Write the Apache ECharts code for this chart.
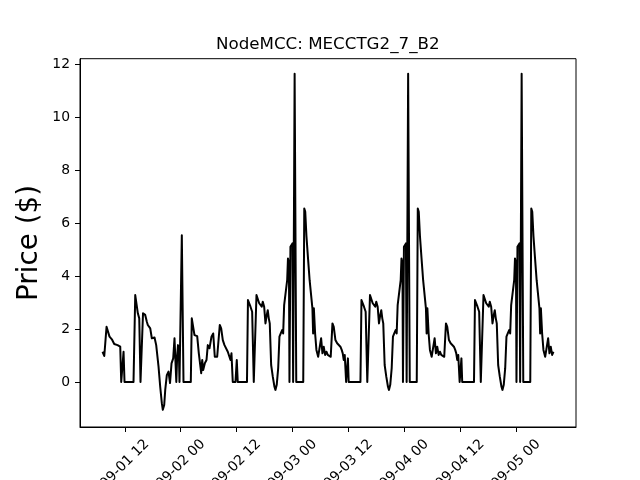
<!DOCTYPE html>
<html>
<head>
<meta charset="utf-8">
<script src="https://cdn.jsdelivr.net/npm/echarts@6/dist/echarts.min.js"></script>
<style>html,body{margin:0;padding:0;background:#fff}#main{width:640px;height:480px}</style>
</head>
<body>
<div id="main"></div>
<script>
// Hours since 2019-09-01 00:00 and matching prices ($)
const hours = [
  7.21, 7.58, 8.07, 8.28, 8.71, 9.21, 9.57, 9.72, 10.06, 10.43, 10.79, 11.01, 11.22, 11.50, 11.72, 11.93,
  13.86, 14.23, 14.44, 14.79, 15.09, 15.21, 15.36, 15.90, 16.37, 16.72, 16.93, 17.23, 17.45, 17.79, 18.15, 18.37,
  18.73, 19.23, 19.59, 19.94, 20.15, 20.45, 20.67, 21.01, 21.37, 21.70, 22.02, 22.38, 22.66, 22.88, 23.05, 23.24,
  23.41, 23.58, 23.73, 24.10, 24.23, 24.44, 24.59, 26.16, 26.37, 26.63, 26.95, 27.32, 27.53, 27.88, 28.18, 28.39,
  28.61, 28.82, 29.16, 29.53, 29.81, 30.17, 30.60, 30.97, 31.31, 31.82, 32.04, 32.38, 32.68, 33.03, 33.39, 33.76,
  34.10, 34.46, 34.68, 34.89, 35.17, 35.75, 36.03, 36.24, 38.22,
  38.43, 38.69, 38.97, 39.33, 39.55, 39.68, 39.94, 40.26, 40.54, 40.84, 41.12, 41.39, 41.61, 41.91, 42.19, 42.40,
  42.68, 42.90, 43.11, 43.41, 43.76, 44.12, 44.33, 44.61, 44.92, 45.19, 45.47, 45.77, 45.99, 46.20, 46.48, 46.85,
  47.02, 47.23, 47.34, 47.55, 47.77, 47.98, 48.13, 48.30, 48.45, 48.63, 48.80, 50.30, 50.52, 50.73, 50.99, 51.31,
  51.52, 51.67, 52.00, 52.27, 52.42, 52.58, 52.85, 53.13, 53.50, 53.84, 54.14, 54.42, 54.70, 55.00, 55.28, 55.56,
  55.92, 56.20, 56.57, 56.85, 57.21, 57.58, 57.92, 58.28, 58.56, 58.78, 58.99, 59.21, 59.51, 59.74, 59.89, 60.06,
  62.58,
  62.80, 63.06, 63.34, 63.70, 63.92, 64.05, 64.31, 64.63, 64.91, 65.21, 65.49, 65.76, 65.98, 66.28, 66.56, 66.77,
  67.05, 67.27, 67.48, 67.78, 68.13, 68.49, 68.70, 68.98, 69.29, 69.56, 69.84, 70.14, 70.36, 70.57, 70.85, 71.22,
  71.39, 71.60, 71.71, 71.92, 72.14, 72.35, 72.50, 72.67, 72.82, 73.00, 73.17, 74.67, 74.89, 75.10, 75.36, 75.68,
  75.89, 76.04, 76.37, 76.64, 76.79, 76.95, 77.22, 77.50, 77.87, 78.21, 78.51, 78.79, 79.07, 79.37, 79.65, 79.93,
  80.29, 80.57, 80.94, 81.22, 81.58, 81.95, 82.29, 82.65, 82.93, 83.15, 83.36, 83.58, 83.88, 84.11, 84.26, 84.43,
  86.96,
  87.17, 87.43, 87.71, 88.07, 88.29, 88.42, 88.68, 89.00, 89.28, 89.58, 89.86, 90.13, 90.35, 90.65, 90.93, 91.14,
  91.42, 91.64, 91.85, 92.15, 92.50, 92.86, 93.07, 93.35, 93.66, 93.93, 94.21, 94.51, 94.73, 94.94, 95.22, 95.59,
  95.76, 95.97, 96.08, 96.29, 96.51, 96.72, 96.87, 97.04, 97.19, 97.37, 97.54, 99.04, 99.26, 99.47, 99.73, 100.05,
  100.26, 100.41, 100.74, 101.01, 101.16, 101.32, 101.59, 101.87, 102.24, 102.58, 102.88, 103.16, 103.44, 103.74, 104.02
];
const prices = [
  1.14, 0.98, 2.08, 2.10, 1.71, 1.61, 1.58, 1.43, 1.46, 1.39, 1.42, 1.33, 0, 0, 1.14, 0,
  0, 3.28, 3.28, 2.59, 2.40, 2.38, 0, 2.59, 2.53, 2.27, 2.15, 2.20, 2.02, 1.65, 1.58, 1.68,
  1.39, 0.58, -0.18, -0.80, -1.05, -0.87, -0.30, 0.26, 0.39, -0.04, 0.70, 0.89, 1.65, 1.65, 0, 1.00,
  1.39, 1.27, 0, 0, 5.54, 5.54, 0, 0, 2.40, 2.46, 1.77, 1.71, 1.73, 1.08, 1.05, 0.33,
  0.83, 0.45, 0.70, 0.83, 1.39, 1.27, 1.71, 1.83, 0.95, 0.95, 0.89, 2.15, 2.02, 1.58, 1.39, 1.33,
  1.14, 1.08, 0.83, 1.08, 0, 0, 0.83, 0, 0,
  3.09, 3.16, 2.84, 2.65, 2.65, 0, 0, 3.28, 3.22, 2.97, 3.03, 2.84, 3.03, 2.84, 2.21, 2.46,
  2.71, 2.40, 2.21, 0.64, 0.20, -0.18, -0.30, -0.11, 0.52, 1.71, 1.83, 1.96, 1.83, 2.90, 2.97, 3.84,
  4.66, 4.47, 0, 5.10, 5.16, 5.23, 0, 0, 11.63, 11.63, 0, 0, 6.55, 6.42, 5.50, 4.70,
  4.20, 3.84, 3.78, 2.78, 1.83, 2.78, 1.83, 1.21, 0.95, 1.02, 1.65, 1.08, 1.33, 1.02, 1.14, 1.02,
  1.02, 0.95, 2.21, 2.08, 1.58, 1.46, 1.39, 1.33, 1.21, 1.08, 0.83, 1.02, 0, 0, 0.89, 0,
  0,
  3.09, 3.16, 2.84, 2.65, 2.65, 0, 0, 3.28, 3.22, 2.97, 3.03, 2.84, 3.03, 2.84, 2.21, 2.46,
  2.71, 2.40, 2.21, 0.64, 0.20, -0.18, -0.30, -0.11, 0.52, 1.71, 1.83, 1.96, 1.83, 2.90, 2.97, 3.84,
  4.66, 4.47, 0, 5.10, 5.16, 5.23, 0, 0, 11.63, 11.63, 0, 0, 6.55, 6.42, 5.50, 4.70,
  4.20, 3.84, 3.78, 2.78, 1.83, 2.78, 1.83, 1.21, 0.95, 1.02, 1.65, 1.08, 1.33, 1.02, 1.14, 1.02,
  1.02, 0.95, 2.21, 2.08, 1.58, 1.46, 1.39, 1.33, 1.21, 1.08, 0.83, 1.02, 0, 0, 0.89, 0,
  0,
  3.09, 3.16, 2.84, 2.65, 2.65, 0, 0, 3.28, 3.22, 2.97, 3.03, 2.84, 3.03, 2.84, 2.21, 2.46,
  2.71, 2.40, 2.21, 0.64, 0.20, -0.18, -0.30, -0.11, 0.52, 1.71, 1.83, 1.96, 1.83, 2.90, 2.97, 3.84,
  4.66, 4.47, 0, 5.10, 5.16, 5.23, 0, 0, 11.63, 11.63, 0, 0, 6.55, 6.42, 5.50, 4.70,
  4.20, 3.84, 3.78, 2.78, 1.83, 2.78, 1.83, 1.21, 0.95, 1.02, 1.65, 1.08, 1.33, 1.02, 1.14
];
const xTickHours = [12, 24, 36, 48, 60, 72, 84, 96];
const yTicks = [0, 2, 4, 6, 8, 10, 12];
const titleText = 'NodeMCC: MECCTG2_7_B2';
const yName = 'Price ($)';

const BASE = Date.UTC(2019, 8, 1, 0, 0, 0);
const H = 3600 * 1000;
const pad = n => (n < 10 ? '0' : '') + n;
const fmtHour = h => { const d = new Date(BASE + h * H); return pad(d.getUTCMonth() + 1) + '-' + pad(d.getUTCDate()) + ' ' + pad(d.getUTCHours()); };

const FONT = 'DejaVu Sans';
const chart = echarts.init(document.getElementById('main'), null, { renderer: 'canvas' });
chart.setOption({
  animation: false,
  backgroundColor: '#fff',
  title: {
    text: titleText, left: 211, top: 31,
    textStyle: { fontFamily: FONT, fontSize: 16.7, fontWeight: 'normal', color: '#000' }
  },
  graphic: [{
    type: 'text', x: 30, y: 243, rotation: Math.PI / 2, silent: true,
    style: { text: yName, fontFamily: FONT, fontSize: 27.8, fill: '#000', align: 'center', verticalAlign: 'middle' }
  }],
  grid: {
    left: 80, right: 64, top: 58.7, bottom: 53,
    outerBoundsMode: 'none', containLabel: false,
    show: true, borderColor: '#000', borderWidth: 1, backgroundColor: 'transparent'
  },
  xAxis: {
    type: 'value',
    min: 2.37, max: 108.86,
    splitLine: { show: false },
    axisLine: { onZero: false, lineStyle: { color: '#000', width: 1 } },
    axisTick: { show: true, length: 5, lineStyle: { color: '#000', width: 1 }, customValues: xTickHours },
    axisLabel: {
      customValues: xTickHours, formatter: v => fmtHour(v),
      rotate: 45, align: 'center', verticalAlign: 'middle', margin: 37,
      fontFamily: FONT, fontSize: 13.9, color: '#000', hideOverlap: false
    }
  },
  yAxis: {
    type: 'value', min: -1.70, max: 12.20,
    splitLine: { show: false },
    axisLine: { show: true, lineStyle: { color: '#000', width: 1 } },
    axisTick: { show: true, length: 5, lineStyle: { color: '#000', width: 1 }, customValues: yTicks },
    axisLabel: { customValues: yTicks, margin: 10, fontFamily: FONT, fontSize: 13.9, color: '#000' }
  },
  series: [{
    type: 'line',
    data: hours.map((h, i) => [h, prices[i]]),
    showSymbol: false, symbol: 'none',
    lineStyle: { color: '#000', width: 2, join: 'round' },
    silent: true
  }]
});
</script>
</body>
</html>
